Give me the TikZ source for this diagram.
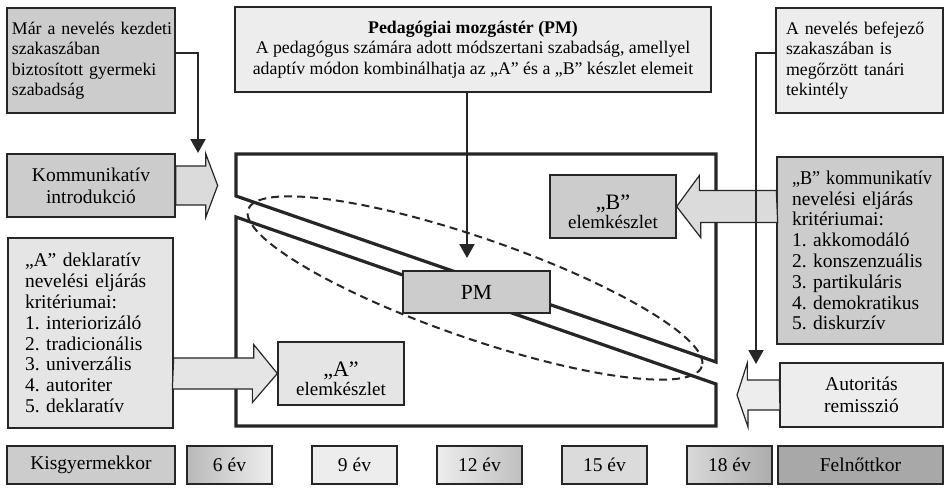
\documentclass[tikz,border=0pt]{standalone}
\usepackage{fontspec}
\usepackage{graphicx}
\setmainfont{Liberation Serif}
\usetikzlibrary{arrows.meta,calc}
\definecolor{gdark}{gray}{0.80}
\definecolor{glight}{gray}{0.93}
\definecolor{gpale}{gray}{0.90}
\definecolor{gmid}{gray}{0.86}
\definecolor{gedge}{gray}{0.15}
\frenchspacing
\begin{document}
\begin{tikzpicture}[x=1pt,y=-1pt,
  box/.style={draw=gedge, line width=1.3pt, inner sep=0pt, font=\fontsize{19.5}{22}\selectfont},
  topbox/.style={box, font=\fontsize{17.8}{20.5}\selectfont},
  listbox/.style={box, font=\fontsize{19.5}{20.8}\selectfont, align=left},
  plain/.style={inner sep=0pt, align=center},
  fat/.style={draw=gedge, line width=1.2pt, line join=miter},
  conn/.style={draw=gedge, line width=2pt, -{Triangle[width=15pt,length=14pt]}},
  bigline/.style={draw=gedge, line width=3.2pt, line join=miter},
  agebox/.style={box, minimum height=38pt, font=\fontsize{19.5}{22}\selectfont}]
\useasboundingbox[fill=white] (0,0) rectangle (946,488);

% central frame
\draw[bigline] (236,196) -- (236,154) -- (716,154) -- (716,362) -- cycle;
\draw[bigline] (236,217) -- (716,384) -- (716,426) -- (236,426) -- cycle;
\draw[gedge, line width=2pt, dash pattern=on 8pt off 5pt, rotate around={-19.1:(475,288)}] (475,288) ellipse [x radius=240, y radius=50];

% top boxes
\node[topbox, fill=gdark, minimum width=168pt, minimum height=105pt, text width=158pt, align=left] (kezd) at (91,60.5)
  {Már~a~nevelés~kezdeti\\szakaszában\\biztosított~gyermeki\\szabadság};
\node[topbox, fill=glight, minimum width=476pt, minimum height=85pt, align=center] (pmdesc) at (473,49.5)
  {\textbf{Pedagógiai mozgástér (PM)}\\A pedagógus számára adott módszertani szabadság, amellyel\\adaptív módon kombinálhatja az „A” és a „B” készlet elemeit};
\node[topbox, fill=glight, minimum width=167pt, minimum height=105pt, text width=147pt, align=left] (tr) at (859.5,60.5)
  {A~nevelés~befejező\\szakaszában~is\\megőrzött~tanári\\tekintély};

% side boxes
\node[box, fill=gdark, minimum width=168pt, minimum height=63pt, align=center] (komm) at (91,185.5)
  {Kommunikatív\\introdukció};
\node[listbox, fill=gpale, minimum width=165pt, minimum height=190pt, text width=131pt] (acrit) at (90.5,333)
  {„A”~deklaratív\\nevelési~eljárás\\kritériumai:\\1.~interiorizáló\\2.~tradicionális\\3.~univerzális\\4.~autoriter\\5.~deklaratív};
\node[listbox, fill=gdark, minimum width=166pt, minimum height=187pt, text width=136pt] (bcrit) at (860,250.5)
  {\scalebox{0.93}[1]{„B”~kommunikatív}\\nevelési~eljárás\\kritériumai:\\1.~akkomodáló\\2.~konszenzuális\\3.~partikuláris\\4.~demokratikus\\5.~diskurzív};
\node[box, fill=glight, minimum width=163pt, minimum height=64pt, align=center] (auto) at (861.5,395)
  {Autoritás\\remisszió};

% inner boxes
\node[box, fill=gdark, minimum width=147pt, minimum height=42pt, font=\fontsize{21.5}{22}\selectfont] (pm) at (476.5,292) {PM};
\node[box, fill=gdark, minimum width=126pt, minimum height=63pt] (belem) at (613,206.5) {};
\node[plain, font=\fontsize{22}{22}\selectfont] (belemtext) at ([yshift=-5pt]belem.center)
  {„B”\\[-3pt]{\fontsize{19}{19}\selectfont elemkészlet}};
\node[box, fill=gpale, minimum width=126pt, minimum height=63pt] (aelem) at (341,373.5) {};
\node[plain, font=\fontsize{22}{22}\selectfont] (aelemtext) at ([yshift=-5pt]aelem.center)
  {„A”\\[-3pt]{\fontsize{19}{19}\selectfont elemkészlet}};

% age row
\node[agebox, fill=gdark, minimum width=168pt] (kisgy) at (91,465) {Kisgyermekkor};
\node[agebox, left color=gray!55!white, right color=glight, minimum width=85pt] (a6) at (229.5,465) {6 év};
\node[agebox, fill=glight, minimum width=85pt] (a9) at (354.5,465) {9 év};
\node[agebox, left color=glight, right color=gray!50!white, minimum width=85pt] (a12) at (479.5,465) {12 év};
\node[agebox, fill=gmid, minimum width=85pt] (a15) at (604.5,465) {15 év};
\node[agebox, left color=gray!30!white, right color=gray!65!white, minimum width=85pt] (a18) at (729.5,465) {18 év};
\node[agebox, fill=gray!68!white, minimum width=165pt] (felnott) at (860.5,465) {Felnőttkor};

% fat arrows
\draw[fat, fill=gmid] (komm.east) ++(0,-19.5) -- ++(30,0) -- ++(0,-12.5) -- ++(12,32) -- ++(-12,32) -- ++(0,-12.5) -- ++(-30,0) -- cycle;
\draw[fat, fill=gpale] (acrit.east |- aelem.west) ++(0,-15.5) -- ++(80,0) -- ++(0,-13.5) -- (aelem.west) -- ++(-25,29) -- ++(0,-13.5) -- ++(-80,0) -- cycle;
\draw[fat, fill=gmid] (bcrit.west |- belem.east) ++(0,-16) -- ++(-77,0) -- ++(0,-15) -- (belem.east) -- ++(24,31) -- ++(0,-15) -- ++(77,0) -- cycle;
\coordinate (autotip) at (737,395);
\draw[fat, fill=glight] (auto.west) ++(0,-15) -- ++(-32,0) -- ++(0,-17) -- (autotip) -- ++(11,32) -- ++(0,-17) -- ++(32,0) -- cycle;

% thin connectors
\coordinate (ltip) at (198,153);
\coordinate (rtip) at (756,364);
\coordinate (ctip) at (467,258);
\draw[conn] (kezd.east |- 0,53) -| (ltip);
\draw[conn] (tr.west |- 0,53) -| (rtip);
\draw[conn] (pmdesc.south -| ctip) -- (ctip);
\end{tikzpicture}
\end{document}
